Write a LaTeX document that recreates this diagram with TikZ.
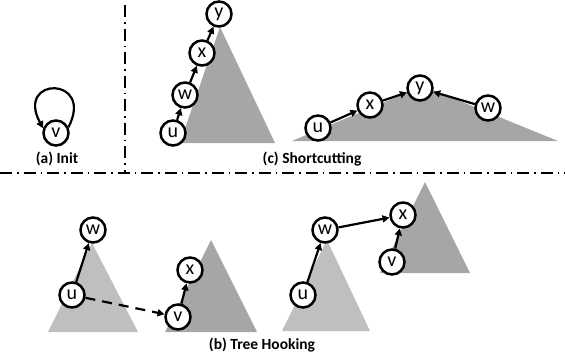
\documentclass[tikz,border=0pt]{standalone}
\usepackage{fontspec}
\setmainfont{Carlito}
\usetikzlibrary{arrows.meta}
\definecolor{treeLight}{HTML}{BFBFBF}
\definecolor{treeDark}{HTML}{A6A6A6}
\tikzset{
  vtx/.style={circle, draw=black, fill=white, line width=2.5pt, inner sep=0pt,
    minimum size=25pt, font=\fontsize{20}{20}\selectfont},
  caption/.style={font=\fontsize{15.5}{16}\selectfont\bfseries},
  arc/.style={-{Triangle[length=7pt,width=7pt]}, line width=2.2pt},
  hookArc/.style={arc, dash pattern=on 10pt off 7pt},
  sepLine/.style={line width=1.2pt, dash pattern=on 12pt off 5pt on 1.5pt off 5pt},
}
\begin{document}
\begin{tikzpicture}[x=1pt, y=-1pt]
  \useasboundingbox (0,0) rectangle (565,356);
  % separators
  \coordinate (sepTop) at (125,5);
  \coordinate (sepMid) at (125,173);
  \coordinate (sepL) at (0,173);
  \coordinate (sepR) at (565,173);
  \draw[sepLine] (sepTop) -- (sepMid);
  \draw[sepLine] (sepL) -- (sepR);

  % (a) Init
  \node[vtx] (iv) at (56,133) {v};
  \draw[arc] (iv.25) .. controls (95,76) and (15,76) .. (iv.160);
  \node[caption] (capA) at (57,159) {(a) Init};

  % (c) Shortcutting, before
  \fill[treeDark] (220,27) -- (275,143) -- (180,143) -- cycle;
  \node[vtx] (cu) at (173,133) {u};
  \node[vtx] (cw) at (185,95) {w};
  \node[vtx] (cx) at (202,53) {x};
  \node[vtx] (cy) at (219,14) {y};
  \draw[arc] (cu) -- (cw);
  \draw[arc] (cw) -- (cx);
  \draw[arc] (cx) -- (cy);

  % (c) Shortcutting, after
  \fill[treeDark] (292,141) -- (423,86) -- (558,141) -- cycle;
  \node[vtx] (su) at (318,128) {u};
  \node[vtx] (sx) at (370,105) {x};
  \node[vtx] (sy) at (420,88) {y};
  \node[vtx] (sw) at (488,108) {w};
  \draw[arc] (su) -- (sx);
  \draw[arc] (sx) -- (sy);
  \draw[arc] (sw) -- (sy);
  \node[caption] (capC) at (312,159) {(c) Shortcutting};

  % (b) Tree Hooking, before
  \fill[treeLight] (92,243) -- (138,332) -- (48,332) -- cycle;
  \fill[treeDark] (211,240) -- (257,332) -- (165,332) -- cycle;
  \node[vtx] (hw) at (93,230) {w};
  \node[vtx] (hu) at (72,295) {u};
  \node[vtx] (hx) at (190,270) {x};
  \node[vtx] (hv) at (178,317) {v};
  \draw[arc] (hu) -- (hw);
  \draw[hookArc] (hu) -- (hv);
  \draw[arc] (hv) -- (hx);

  % (b) Tree Hooking, after
  \fill[treeLight] (327,240) -- (370,331) -- (282,331) -- cycle;
  \fill[treeDark] (425,182) -- (470,273) -- (380,273) -- cycle;
  \node[vtx] (tw) at (325,230) {w};
  \node[vtx] (tu) at (303,295) {u};
  \node[vtx] (tx) at (403,215) {x};
  \node[vtx] (tv) at (392,262) {v};
  \draw[arc] (tu) -- (tw);
  \draw[arc] (tw) -- (tx);
  \draw[arc] (tv) -- (tx);
  \node[caption] (capB) at (262,345) {(b) Tree Hooking};
\end{tikzpicture}
\end{document}
